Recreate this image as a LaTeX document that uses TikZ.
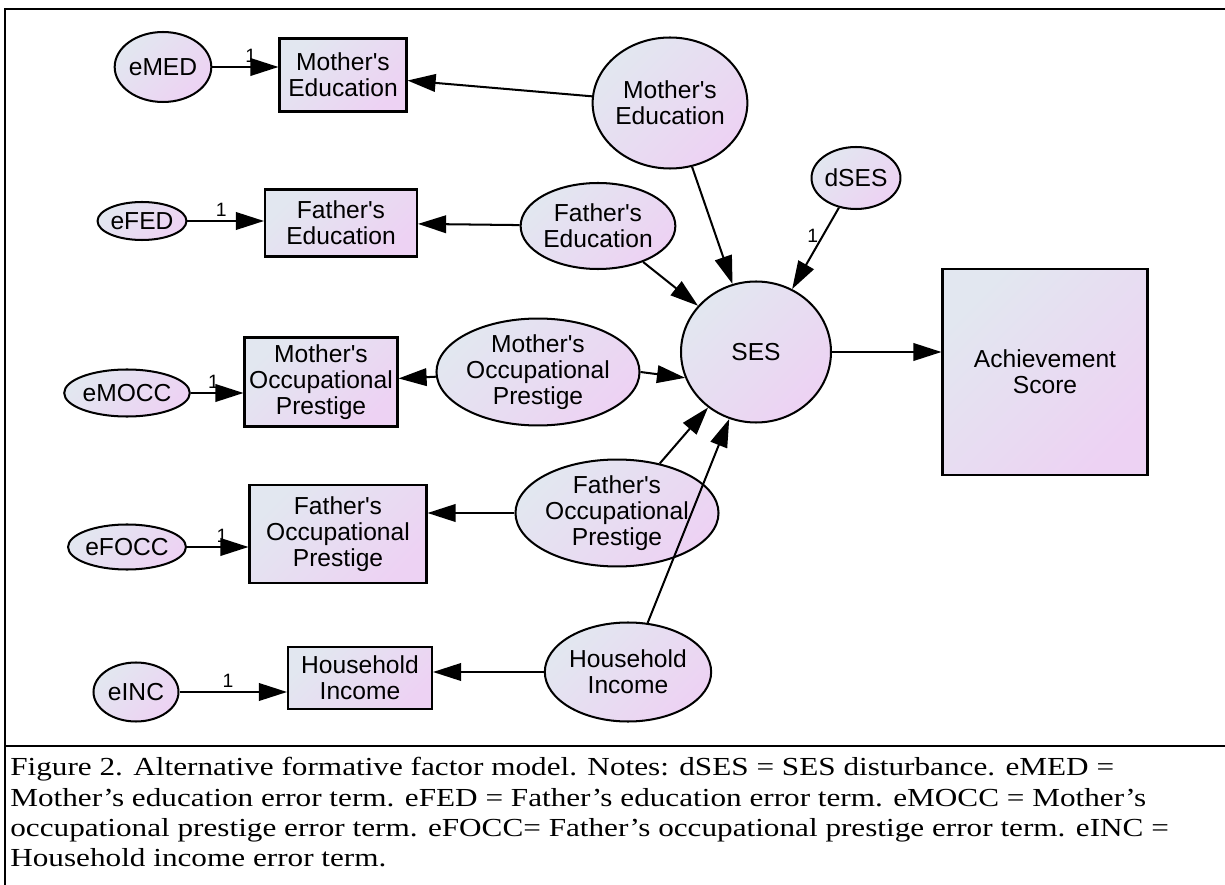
\documentclass[tikz,border=0pt]{standalone}
\usepackage{fontspec}
\usetikzlibrary{shapes.geometric,arrows.meta}

\newfontfamily\semfont{Liberation Sans}
\newfontfamily\capfont[FakeStretch=1.2]{Liberation Serif}

\newcommand{\px}{0.02cm}
\definecolor{semtop}{RGB}{226,231,240}
\definecolor{sembot}{RGB}{237,210,243}

\tikzset{
  sem/.style={draw, line width=1.15pt, top color=semtop, bottom color=sembot,
    shading angle=45, align=center, inner sep=0pt,
    font=\semfont\fontsize{14}{15}\selectfont},
  obsbox/.style={sem, rectangle},
  latent/.style={sem, ellipse},
  size/.style 2 args={minimum width=#1*\px, minimum height=#2*\px},
  semarrow/.style={line width=1.15pt, -{Triangle[length=16pt,width=10pt]}},
  one/.style={font=\semfont\fontsize{11}{12}\selectfont, inner sep=2pt},
  frameline/.style={line width=1.4pt}
}

\begin{document}
\begin{tikzpicture}[x=\px, y=-\px]
\useasboundingbox (0,0) rectangle (1225,885);

% Frame and caption rule
\draw[frameline] (5,885) -- (5,9) -- (1225,9);
\draw[frameline] (5,746) -- (1225,746);

% Error terms
\node[latent, size={83}{70}] (eMED) at (163,67) {eMED};
\node[latent, size={84}{38}] (eFED) at (142,221) {eFED};
\node[latent, size={114}{47}] (eMOCC) at (127,393) {eMOCC};
\node[latent, size={106}{45}] (eFOCC) at (127,547) {eFOCC};
\node[latent, size={85}{59}] (eINC) at (136,692) {eINC};

% Observed indicators
\node[obsbox, size={127}{73}] (boxME) at (343,75) {Mother's\\Education};
\node[obsbox, size={152}{67}] (boxFE) at (341,223) {Father's\\Education};
\node[obsbox, size={153}{89}] (boxMOP) at (321,382) {Mother's\\Occupational\\Prestige};
\node[obsbox, size={177}{98}] (boxFOP) at (338,534) {Father's\\Occupational\\Prestige};
\node[obsbox, size={144}{62}] (boxHI) at (360,678) {Household\\Income};

% Latent causes
\node[latent, size={130}{131}] (latME) at (670,103) {Mother's\\Education};
\node[latent, size={139}{86}] (latFE) at (598,226) {Father's\\Education};
\node[latent, size={169}{93}] (latMOP) at (538,372) {Mother's\\Occupational\\Prestige};
\node[latent, size={156}{101}] (latFOP) at (617,513) {Father's\\Occupational\\Prestige};
\node[latent, size={140}{99}] (latHI) at (628,672) {Household\\Income};

% SES and outcome
\node[latent, size={76}{62}] (dSES) at (856,178) {dSES};
\node[latent, size={150}{141}] (SES) at (756,352) {SES};
\node[obsbox, size={205}{206}] (Ach) at (1045,372) {Achievement\\Score};

% Error paths
\draw[semarrow] (eMED.east) -- node[one, pos=0.58, above] {1} (eMED.east -| boxME.west);
\draw[semarrow] (eFED.east) -- node[one, pos=0.44, above] {1} (eFED.east -| boxFE.west);
\draw[semarrow] (eMOCC.east) -- node[one, pos=0.43, above] {1} (eMOCC.east -| boxMOP.west);
\draw[semarrow] (eFOCC.east) -- node[one, pos=0.57, above] {1} (eFOCC.east -| boxFOP.west);
\draw[semarrow] (eINC.east) -- node[one, pos=0.45, above] {1} (eINC.east -| boxHI.west);

% Latent to indicator
\draw[semarrow] (latME) -- (boxME);
\draw[semarrow] (latFE) -- (boxFE);
\draw[semarrow] (latMOP) -- (boxMOP);
\draw[semarrow] (latFOP.west) -- (latFOP.west -| boxFOP.east);
\draw[semarrow] (latHI.west) -- (latHI.west -| boxHI.east);

% Formative paths
\draw[semarrow] (latME) -- (SES);
\draw[semarrow] (latFE) -- (SES);
\draw[semarrow] (latMOP.east) -- (SES.200);
\draw[semarrow] (latFOP) -- (SES);
\draw[semarrow] (latHI) -- (SES);
\draw[semarrow] (dSES) -- node[one, pos=0.35, left] {1} (SES);
\draw[semarrow] (SES.east) -- (SES.east -| Ach.west);

% Caption
\node[anchor=north west, inner sep=0pt, align=left,
  font=\capfont\fontsize{14.8}{17.3}\selectfont] (caption) at (10,757)
  {Figure 2. Alternative formative factor model. Notes: dSES = SES disturbance. eMED =\\
   Mother’s education error term. eFED = Father’s education error term. eMOCC = Mother’s\\
   occupational prestige error term. eFOCC= Father’s occupational prestige error term. eINC =\\
   Household income error term.};
\end{tikzpicture}
\end{document}
